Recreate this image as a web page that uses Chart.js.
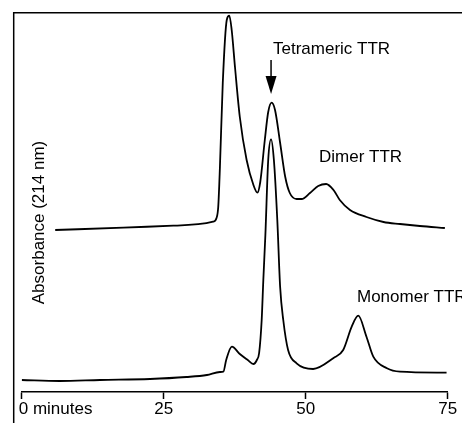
<!DOCTYPE html>
<html>
<head>
<meta charset="utf-8">
<script src="https://cdn.jsdelivr.net/npm/chart.js@4/dist/chart.umd.min.js"></script>
<style>
    html, body {
        margin: 0;
        padding: 0;
        background: #fff;
    }
    .chart-box {
        width: 462px;
        height: 423px;
    }
</style>
</head>
<body>
<div class="chart-box">
    <canvas id="chromatogram"></canvas>
</div>

<script>
    // elution time (minutes) and absorbance (arbitrary units)
    const dimerTime = [5.9, 17.9, 26.7, 33.7, 34.3, 34.6, 34.9, 35.4, 36.1, 36.55, 36.97, 37.55, 38.4, 39.6, 40.8, 41.5, 42.0, 42.8, 43.4, 44.0, 44.6, 45.5, 46.4, 47.2, 48.4, 49.3, 50.75, 52.2, 53.6, 54.9, 56.0, 57.8, 60.7, 63.7, 66.6, 70.1, 74.5];
    const dimerAbs = [162, 164.3, 166.3, 170.3, 174, 185, 225, 309, 372, 376.3, 362, 325, 275, 232, 207, 199.3, 210, 252, 280, 289.3, 282, 249, 215, 199, 193, 193, 199, 206, 208, 202, 192, 182, 175, 170, 168, 166, 164];

    const monomerTime = [0, 6.7, 13.8, 22.6, 29, 32.6, 34.9, 35.5, 36.0, 37.0, 38.4, 39.8, 40.8, 41.4, 41.8, 42.25, 42.54, 42.9, 43.4, 43.9, 44.4, 45.0, 45.5, 46.05, 46.9, 48.4, 51.3, 54.9, 56.6, 58.1, 59.25, 60.7, 61.9, 64.3, 66.6, 74.8];
    const monomerAbs = [12, 11, 12, 13, 15, 17, 20, 20.3, 32, 45.3, 38, 32, 28, 32, 39, 72, 112, 157, 232, 252.7, 232, 172, 105, 72, 42, 28.7, 23, 34, 42, 65.3, 76.3, 55.3, 35.3, 23.7, 20.3, 19.3];

    const timeTicks = [0, 25, 50, 75];
    const tickText = ['0 minutes', '25', '50', '75'];

    const FONT = '17px "Liberation Sans", Arial, sans-serif';

    function toPoints(xs, ys) {
        return xs.map((x, i) => ({ x: x, y: ys[i] }));
    }

    // frame, axis labels and peak annotations
    const decorations = {
        id: 'decorations',
        afterDraw(chart) {
            const c = chart.ctx;
            const xs = chart.scales.x;
            const ys = chart.scales.y;
            c.save();
            c.strokeStyle = '#000';
            c.fillStyle = '#000';
            c.lineWidth = 1.5;

            // frame (top and left edges of the cropped figure)
            c.beginPath();
            c.moveTo(13.7, 423);
            c.lineTo(13.7, 12.7);
            c.lineTo(462, 12.7);
            c.stroke();

            c.font = FONT;
            c.textBaseline = 'alphabetic';

            // tick labels
            timeTicks.forEach((t, i) => {
                const px = xs.getPixelForValue(t);
                if (i === 0) {
                    c.textAlign = 'left';
                    c.fillText(tickText[i], px - 3, 414);
                } else {
                    c.textAlign = 'center';
                    c.fillText(tickText[i], px, 414);
                }
            });

            // y title
            c.save();
            c.translate(43.5, 222.5);
            c.rotate(-Math.PI / 2);
            c.textAlign = 'center';
            c.fillText('Absorbance (214 nm)', 0, 0);
            c.restore();

            // annotations
            c.textAlign = 'left';
            c.fillText('Tetrameric TTR', xs.getPixelForValue(44.24), ys.getPixelForValue(338.5));
            c.fillText('Dimer TTR', xs.getPixelForValue(52.34), ys.getPixelForValue(230.3));
            c.fillText('Monomer TTR', xs.getPixelForValue(59.03), ys.getPixelForValue(89.7));

            // arrow to tetramer peak
            const ax = xs.getPixelForValue(43.9);
            const top = ys.getPixelForValue(332);
            const tip = ys.getPixelForValue(298);
            c.beginPath();
            c.moveTo(ax, top);
            c.lineTo(ax, tip - 16);
            c.stroke();
            c.beginPath();
            c.moveTo(ax - 5.5, tip - 18);
            c.lineTo(ax + 5.5, tip - 18);
            c.lineTo(ax, tip);
            c.closePath();
            c.fill();

            c.restore();
        }
    };

    const ctx = document.getElementById('chromatogram').getContext('2d');
    const chromatogram = new Chart(ctx, {
        type: 'line',
        data: {
            datasets: [{
                label: 'Dimer TTR',
                data: toPoints(dimerTime, dimerAbs),
                borderColor: '#000',
                borderWidth: 1.8,
                pointRadius: 0,
                cubicInterpolationMode: 'monotone',
                fill: false
            }, {
                label: 'Monomer TTR',
                data: toPoints(monomerTime, monomerAbs),
                borderColor: '#000',
                borderWidth: 1.8,
                pointRadius: 0,
                cubicInterpolationMode: 'monotone',
                fill: false
            }]
        },
        options: {
            responsive: true,
            maintainAspectRatio: false,
            animation: false,
            layout: {
                padding: { left: 21.7, right: 14.3, top: 12, bottom: 24 }
            },
            scales: {
                x: {
                    type: 'linear',
                    min: 0,
                    max: 75,
                    afterBuildTicks: scale => {
                        scale.ticks = timeTicks.map(v => ({ value: v }));
                    },
                    border: { display: true, color: '#000', width: 1.5 },
                    grid: {
                        drawOnChartArea: false,
                        drawTicks: true,
                        tickLength: 7,
                        tickColor: '#000',
                        tickWidth: 1.5
                    },
                    ticks: { display: false }
                },
                y: {
                    display: false,
                    min: 0,
                    max: 380
                }
            },
            plugins: {
                legend: { display: false },
                tooltip: { enabled: false }
            }
        },
        plugins: [decorations]
    });
</script>
</body>
</html>
